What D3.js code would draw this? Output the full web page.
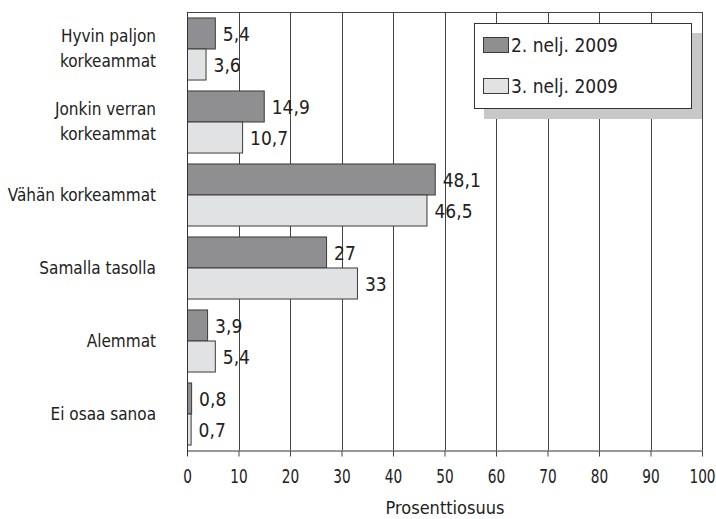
<!DOCTYPE html>
<html>
<head>
<meta charset="utf-8">
<script src="https://cdn.jsdelivr.net/npm/d3@7"></script>
<style>
  body { margin: 0; background: #fff; }
  text { font-family: "DejaVu Sans", sans-serif; font-stretch: condensed; fill: #222; }
</style>
</head>
<body>
<svg id="chart"></svg>
<script>
// data
var categories = [
  ["Hyvin paljon", "korkeammat"],
  ["Jonkin verran", "korkeammat"],
  ["Vähän korkeammat"],
  ["Samalla tasolla"],
  ["Alemmat"],
  ["Ei osaa sanoa"]
];
var seriesNames = ["2. nelj. 2009", "3. nelj. 2009"];
var q2 = [5.4, 14.9, 48.1, 27, 3.9, 0.8];
var q3 = [3.6, 10.7, 46.5, 33, 5.4, 0.7];
var valueLabels2 = ["5,4", "14,9", "48,1", "27", "3,9", "0,8"];
var valueLabels3 = ["3,6", "10,7", "46,5", "33", "5,4", "0,7"];
var xTicks = [0, 10, 20, 30, 40, 50, 60, 70, 80, 90, 100];

var width = 716, height = 519;
var plotLeft = 187, plotRight = 702, plotTop = 12, plotBottom = 450;
var barColors = ["#8f8f91", "#e1e2e4"];
var barStroke = "#3a3a3a";

var svg = d3.select("#chart").attr("width", width).attr("height", height);

var x = d3.scaleLinear().domain([0, 100]).range([plotLeft, plotRight]);
var y = d3.scaleBand().domain(d3.range(categories.length)).range([plotTop, plotBottom]).paddingInner(0.15).paddingOuter(0.075);
var ySub = d3.scaleBand().domain([0, 1]).range([0, y.bandwidth()]);

// gridlines
svg.append("g").selectAll("line")
  .data(xTicks.slice(1))
  .enter().append("line")
  .attr("x1", function(d) { return Math.round(x(d)) + 0.5; })
  .attr("x2", function(d) { return Math.round(x(d)) + 0.5; })
  .attr("y1", plotTop)
  .attr("y2", plotBottom)
  .attr("stroke", "#444")
  .attr("stroke-width", 1);

// top border
svg.append("line")
  .attr("x1", plotLeft).attr("x2", plotRight + 1)
  .attr("y1", plotTop + 0.5).attr("y2", plotTop + 0.5)
  .attr("stroke", "#444");

// legend
var lg = svg.append("g");
lg.append("rect").attr("x", 484).attr("y", 33).attr("width", 218).attr("height", 86).attr("fill", "#c8c8c8");
lg.append("rect").attr("x", 474.5).attr("y", 23.5).attr("width", 217).attr("height", 85).attr("fill", "#fff").attr("stroke", "#333");
seriesNames.forEach(function(name, i) {
  var yy = 37 + i * 41;
  lg.append("rect").attr("x", 483.5).attr("y", yy + 0.5).attr("width", 25).attr("height", 15)
    .attr("fill", barColors[i]).attr("stroke", barStroke);
  lg.append("text").attr("x", 511).attr("y", yy + 8).attr("dy", "0.36em")
    .attr("font-size", 19).text(name);
});

// bars
var series = [q2, q3];
var labels = [valueLabels2, valueLabels3];
series.forEach(function(vals, s) {
  var g = svg.append("g");
  g.selectAll("rect")
    .data(vals)
    .enter().append("rect")
    .attr("x", x(0) + 0.5)
    .attr("y", function(d, i) { return y(i) + ySub(s) + 0.5; })
    .attr("width", function(d) { return x(d) - x(0); })
    .attr("height", ySub.bandwidth())
    .attr("fill", barColors[s])
    .attr("stroke", barStroke)
    .attr("stroke-width", 1);
  g.selectAll("text")
    .data(vals)
    .enter().append("text")
    .attr("x", function(d) { return x(d) + 8; })
    .attr("y", function(d, i) { return y(i) + ySub(s) + ySub.bandwidth() / 2 + 1; })
    .attr("dy", "0.36em")
    .attr("font-size", 19)
    .text(function(d, i) { return labels[s][i]; });
});

// x axis
var xAxis = d3.axisBottom(x).tickValues(xTicks).tickSize(6).tickSizeOuter(0).tickFormat(d3.format("d"));
var ax = svg.append("g").attr("transform", "translate(0," + (plotBottom + 0.5) + ")").call(xAxis);
ax.attr("font-family", null).attr("font-size", null);
ax.select(".domain").attr("stroke", "#333");
ax.selectAll(".tick line").attr("stroke", "#444");
// narrower digits, like the condensed face of the original
ax.selectAll(".tick text")
  .attr("font-size", 19)
  .attr("y", 32.5)
  .attr("dy", 0)
  .attr("transform", "scale(0.8,1)")
  .attr("fill", "#222");

// y axis line
svg.append("line")
  .attr("x1", plotLeft + 0.5).attr("x2", plotLeft + 0.5)
  .attr("y1", plotTop).attr("y2", plotBottom + 6)
  .attr("stroke", "#333");

// category labels
var cl = svg.append("g");
categories.forEach(function(lines, i) {
  var cy = y(i) + y.bandwidth() / 2;
  lines.forEach(function(t, j) {
    cl.append("text")
      .attr("x", 156)
      .attr("y", cy + (j - (lines.length - 1) / 2) * 25)
      .attr("dy", "0.36em")
      .attr("text-anchor", "end")
      .attr("font-size", 17)
      .text(t);
  });
});

// axis title
svg.append("text")
  .attr("x", 445).attr("y", 514)
  .attr("text-anchor", "middle")
  .attr("font-size", 18)
  .text("Prosenttiosuus");
</script>
</body>
</html>
